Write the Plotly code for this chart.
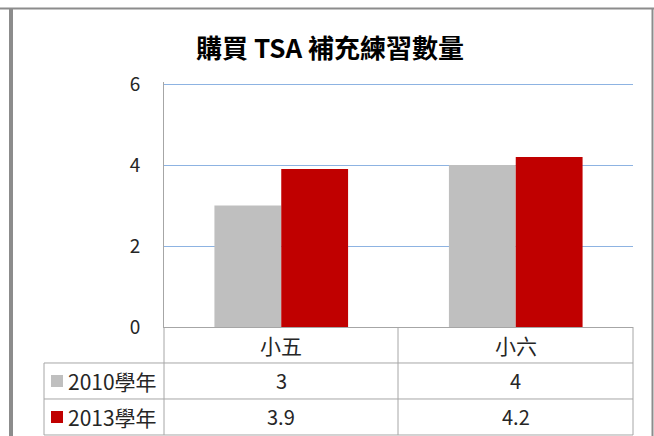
import plotly.graph_objects as go

# ---- data ----
title_text = "購買 TSA 補充練習數量"
categories = ["小五", "小六"]
series_names = ["2010學年", "2013學年"]
values_2010 = [3, 4]
values_2013 = [3.9, 4.2]
y_ticks = [0, 2, 4, 6]

colors = ["#BFBFBF", "#C00000"]
series_values = [values_2010, values_2013]

W, H = 654, 436
Y_MAX = 6.05
L, R, B = 164, 633, 327          # plot area in pixels
T = B - (B - 84) * Y_MAX / 6     # so that tick 6 lands at y=84


def px(x):
    return (x - L) / (R - L)


def py(y):
    return (B - y) / (B - T)


FONT = "Noto Sans CJK TC, Noto Sans, sans-serif"

fig = go.Figure()
for name, vals, col in zip(series_names, series_values, colors):
    fig.add_trace(go.Bar(x=categories, y=vals, name=name, marker=dict(color=col, line=dict(width=0))))

shapes = []
line_col = "#A6A6A6"
# table horizontal lines
for yy, x0 in [(363, 44), (399, 44), (435, 44)]:
    shapes.append(dict(type="line", xref="paper", yref="paper", x0=px(x0), x1=px(633),
                       y0=py(yy), y1=py(yy), line=dict(color=line_col, width=1)))
# table vertical lines
for xx, y0 in [(44, 363), (164, 327), (398, 327), (633, 327)]:
    shapes.append(dict(type="line", xref="paper", yref="paper", x0=px(xx), x1=px(xx),
                       y0=py(y0), y1=py(435), line=dict(color=line_col, width=1)))
# outer frame
frame_col = "#8C8C8C"
shapes.append(dict(type="line", xref="paper", yref="paper", x0=px(0), x1=px(654),
                   y0=py(8.5), y1=py(8.5), line=dict(color=frame_col, width=2)))
shapes.append(dict(type="line", xref="paper", yref="paper", x0=px(11), x1=px(11),
                   y0=py(8), y1=py(436), line=dict(color=frame_col, width=4)))
shapes.append(dict(type="line", xref="paper", yref="paper", x0=px(652.5), x1=px(652.5),
                   y0=py(8), y1=py(436), line=dict(color=frame_col, width=2)))

TXT = "#262626"
annotations = []
# category header row
for c in categories:
    annotations.append(dict(x=c, xref="x", y=py(345), yref="paper", text=c, showarrow=False,
                            font=dict(size=21, color=TXT, family=FONT), xanchor="center", yanchor="middle"))
# legend keys + value rows
row_y = [381, 417]
for name, vals, col, ry in zip(series_names, series_values, colors, row_y):
    shapes.append(dict(type="rect", xref="paper", yref="paper", x0=px(51), x1=px(63),
                       y0=py(ry - 6), y1=py(ry + 6), fillcolor=col, line=dict(width=0)))
    annotations.append(dict(x=px(66), xref="paper", y=py(ry), yref="paper", text=name, showarrow=False,
                            font=dict(size=21, color=TXT, family=FONT), xanchor="left", yanchor="middle"))
    for c, v in zip(categories, vals):
        annotations.append(dict(x=c, xref="x", y=py(ry), yref="paper", text=str(v), showarrow=False,
                                font=dict(size=20, color=TXT, family=FONT), xanchor="center", yanchor="middle"))
# title
annotations.append(dict(x=px(330), xref="paper", y=py(46), yref="paper", text=title_text,
                        showarrow=False, font=dict(size=26, color="#000000", family=FONT, weight=600),
                        xanchor="center", yanchor="middle"))

fig.update_layout(
    width=W, height=H,
    margin=dict(l=L, r=W - R, t=T, b=H - B, pad=0),
    paper_bgcolor="white", plot_bgcolor="white",
    barmode="group", bargap=0.43, bargroupgap=0,
    showlegend=False,
    shapes=shapes, annotations=annotations,
    font=dict(family=FONT),
)
fig.update_xaxes(showticklabels=False, showgrid=False, zeroline=False, showline=True,
                 linecolor="#A6A6A6", linewidth=1, ticks="", range=[-0.5, 1.5])
fig.update_yaxes(range=[0, Y_MAX], tickvals=y_ticks, showgrid=True, gridcolor="#8DB3E2", gridwidth=1,
                 zeroline=False, showline=True, linecolor="#A6A6A6", linewidth=1, ticks="",
                 ticklabelstandoff=19, tickfont=dict(size=19, color=TXT, family=FONT))

fig.write_html("out.html", config={"displayModeBar": False},
               post_script="document.body.style.margin='0';")
